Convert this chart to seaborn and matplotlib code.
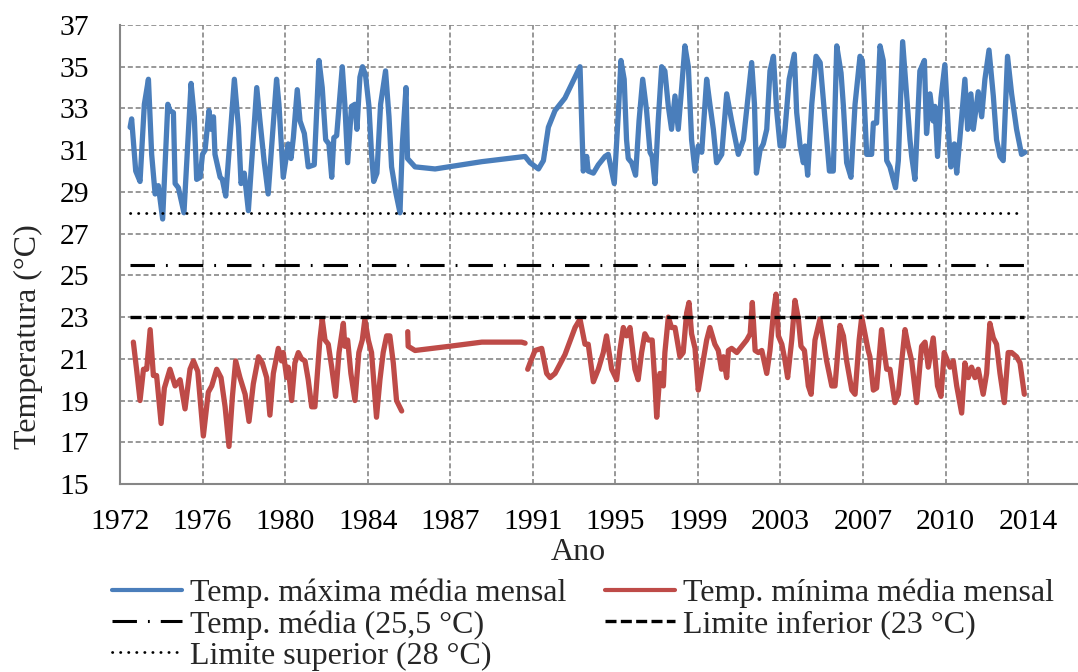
import pandas as pd
import matplotlib
matplotlib.use('Agg')
import matplotlib.pyplot as plt
from matplotlib.lines import Line2D
import seaborn as sns

# temp. maxima media mensal
anos_max = [
    1972.97, 1973.04, 1973.23, 1973.43, 1973.63, 1973.82, 1973.97, 1974.13, 1974.28, 1974.48,
    1974.72, 1974.82, 1974.98, 1975.06, 1975.21, 1975.47, 1975.80, 1975.95, 1976.06, 1976.22,
    1976.33, 1976.45, 1976.63, 1976.73, 1976.84, 1976.91, 1977.15, 1977.25, 1977.41, 1977.81,
    1978.00, 1978.12, 1978.27, 1978.46, 1978.85, 1979.00, 1979.20, 1979.38, 1979.77, 1979.88,
    1980.08, 1980.31, 1980.44, 1980.55, 1980.73, 1980.86, 1981.06, 1981.24, 1981.52, 1981.74,
    1981.89, 1982.05, 1982.20, 1982.33, 1982.43, 1982.56, 1982.82, 1982.94, 1983.07, 1983.25,
    1983.41, 1983.50, 1983.64, 1983.76, 1983.90, 1984.06, 1984.18, 1984.28, 1984.43, 1984.60,
    1984.83, 1984.99, 1985.11, 1985.30, 1985.50, 1985.61, 1985.78, 1985.85,
    1986.20, 1987.13, 1989.30, 1991.31, 1991.54, 1991.93, 1992.16, 1992.39, 1992.70, 1993.16,
    1993.86, 1994.01, 1994.17, 1994.24, 1994.48, 1994.71, 1995.02, 1995.17, 1995.33, 1995.45,
    1995.64, 1995.76, 1995.91, 1996.02, 1996.10, 1996.26, 1996.44, 1996.60, 1996.77, 1996.95,
    1997.11, 1997.21, 1997.34, 1997.49, 1997.65, 1997.80, 1997.96, 1998.11, 1998.27, 1998.42,
    1998.58, 1998.73, 1998.89, 1999.04, 1999.20, 1999.35, 1999.51, 1999.74, 1999.89, 2000.05,
    2000.20, 2000.44, 2000.67, 2000.90, 2001.21, 2001.45, 2001.83, 2001.96, 2002.05, 2002.22,
    2002.37, 2002.53, 2002.68, 2002.84, 2002.99, 2003.15, 2003.30, 2003.38, 2003.57, 2003.81,
    2003.92, 2004.08, 2004.23, 2004.31, 2004.43, 2004.62, 2004.82, 2005.01, 2005.24, 2005.44,
    2005.62, 2005.78, 2005.98, 2006.09, 2006.24, 2006.44, 2006.63, 2006.86, 2006.97, 2007.17,
    2007.40, 2007.48, 2007.63, 2007.79, 2007.94, 2008.10, 2008.25, 2008.51, 2008.64, 2008.84,
    2009.02, 2009.18, 2009.26, 2009.41, 2009.64, 2009.85, 2009.95, 2010.11, 2010.26, 2010.34,
    2010.46, 2010.62, 2010.80, 2010.96, 2011.08, 2011.24, 2011.35, 2011.50, 2011.73, 2011.86,
    2012.01, 2012.12, 2012.35, 2012.51, 2012.66, 2012.85, 2013.05, 2013.20, 2013.36, 2013.51,
    2013.71, 2013.90, 2014.13, 2014.36, 2014.52]
temp_max = [
    32.1, 32.5, 30.0, 29.5, 33.2, 34.4, 30.8, 28.9, 29.3, 27.7,
    33.2, 32.9, 32.8, 29.4, 29.2, 28.0, 34.2, 32.6, 29.6, 29.7,
    30.8, 31.0, 32.9, 32.0, 32.6, 30.8, 29.7, 29.6, 28.8, 34.4,
    32.1, 29.4, 29.9, 28.1, 34.0, 32.4, 30.4, 28.9, 34.4, 33.2,
    29.7, 31.3, 30.6, 31.6, 33.9, 32.4, 31.8, 30.2, 30.3, 35.3,
    34.0, 31.5, 31.3, 29.7, 31.6, 31.7, 35.0, 33.2, 30.4, 33.1,
    33.2, 32.0, 34.5, 35.0, 34.6, 33.1, 30.8, 29.5, 29.9, 33.2,
    34.8, 32.6, 30.2, 29.0, 28.0, 31.3, 34.0, 30.6,
    30.2, 30.1, 30.45, 30.7, 30.4, 30.1, 30.5, 32.1, 32.9, 33.5,
    35.0, 30.0, 30.7, 30.0, 29.9, 30.3, 30.7, 30.8, 30.0, 29.4,
    32.8, 35.3, 34.4, 31.5, 30.6, 30.4, 29.8, 32.4, 34.4, 32.9,
    30.9, 30.7, 29.4, 32.4, 35.0, 34.8, 33.1, 32.0, 33.6, 32.0,
    34.0, 36.0, 35.0, 31.5, 30.0, 31.2, 30.9, 34.4, 33.2, 32.0,
    30.4, 30.8, 33.7, 32.4, 30.8, 31.5, 35.2, 33.2, 29.9, 31.0,
    31.3, 32.0, 34.8, 35.5, 32.9, 31.2, 31.2, 32.0, 34.4, 35.6,
    32.8, 31.2, 30.4, 31.2, 29.8, 33.2, 35.5, 35.2, 32.4, 30.0,
    30.0, 36.0, 34.7, 33.1, 30.4, 29.7, 33.2, 35.5, 35.3, 30.8,
    30.8, 32.3, 32.3, 36.0, 35.3, 30.5, 30.2, 29.2, 30.5, 36.2,
    33.7, 31.5, 30.7, 29.6, 34.8, 35.3, 31.8, 33.7, 32.4, 33.1,
    30.7, 33.5, 35.1, 32.0, 30.2, 31.3, 29.9, 31.6, 34.4, 32.0,
    33.7, 32.0, 33.8, 32.6, 34.4, 35.8, 33.6, 31.5, 30.7, 30.5,
    35.5, 33.7, 32.0, 30.8, 30.9]

# temp. minima media mensal - a serie tem falhas, entao vai em 3 trechos
anos_min_1 = [
    1973.12, 1973.28, 1973.43, 1973.59, 1973.74, 1973.90, 1974.05, 1974.20, 1974.41, 1974.56,
    1974.82, 1975.06, 1975.29, 1975.52, 1975.75, 1975.91, 1976.11, 1976.37, 1976.60, 1976.76,
    1976.99, 1977.19, 1977.38, 1977.56, 1977.72, 1977.87, 1978.07, 1978.31, 1978.49, 1978.69,
    1978.93, 1979.11, 1979.31, 1979.46, 1979.62, 1979.85, 1980.00, 1980.08, 1980.24, 1980.31,
    1980.47, 1980.62, 1980.78, 1980.93, 1981.09, 1981.24, 1981.40, 1981.55, 1981.78, 1981.89,
    1982.02, 1982.17, 1982.33, 1982.51, 1982.67, 1982.87, 1982.94, 1983.07, 1983.22, 1983.41,
    1983.59, 1983.75, 1983.87, 1984.03, 1984.18, 1984.41, 1984.57, 1984.72, 1984.88, 1985.03,
    1985.19, 1985.34, 1985.58]
temp_min_1 = [
    21.8, 20.4, 19.0, 20.5, 20.5, 22.4, 20.2, 20.2, 17.9, 19.6,
    20.5, 19.7, 20.0, 18.6, 20.5, 20.9, 20.4, 17.3, 19.4, 19.7,
    20.5, 20.1, 18.7, 16.8, 19.2, 20.9, 20.1, 19.3, 18.0, 19.8,
    21.1, 20.8, 20.1, 18.3, 20.3, 21.5, 20.9, 21.3, 20.1, 20.6,
    19.0, 20.8, 21.3, 21.0, 20.9, 20.0, 18.7, 18.7, 21.9, 22.9,
    21.9, 21.7, 20.6, 19.2, 21.3, 22.7, 21.6, 21.9, 20.3, 19.0,
    21.3, 21.9, 22.9, 21.9, 21.3, 18.2, 20.0, 21.3, 22.1, 22.1,
    20.8, 19.0, 18.5]

anos_min_2 = [1985.86, 1985.88, 1986.20, 1987.79, 1989.30, 1991.15, 1991.31]
temp_min_2 = [22.3, 21.6, 21.4, 21.6, 21.8, 21.8, 21.75]

anos_min_3 = [
    1991.43, 1991.54, 1991.77, 1992.08, 1992.31, 1992.47, 1992.70, 1993.16, 1993.63, 1993.86,
    1994.09, 1994.24, 1994.48, 1994.71, 1994.94, 1995.09, 1995.33, 1995.56, 1995.71, 1995.87,
    1996.02, 1996.18, 1996.41, 1996.56, 1996.72, 1996.87, 1997.03, 1997.21, 1997.34, 1997.42,
    1997.57, 1997.73, 1997.80, 1997.96, 1998.11, 1998.27, 1998.50, 1998.65, 1998.81, 1998.92,
    1999.04, 1999.20, 1999.35, 1999.51, 1999.74, 1999.89, 2000.12, 2000.28, 2000.43, 2000.52,
    2000.67, 2000.75, 2000.90, 2001.14, 2001.37, 2001.60, 2001.76, 2001.86, 2001.99, 2002.14,
    2002.30, 2002.53, 2002.68, 2002.84, 2002.96, 2003.07, 2003.23, 2003.38, 2003.50, 2003.69,
    2003.84, 2004.00, 2004.12, 2004.28, 2004.46, 2004.59, 2004.77, 2005.00, 2005.16, 2005.31,
    2005.55, 2005.70, 2005.93, 2006.09, 2006.24, 2006.48, 2006.63, 2006.82, 2006.94, 2007.24,
    2007.32, 2007.48, 2007.63, 2007.86, 2007.99, 2008.10, 2008.25, 2008.48, 2008.64, 2008.95,
    2009.10, 2009.26, 2009.49, 2009.72, 2009.88, 2010.03, 2010.26, 2010.46, 2010.62, 2010.77,
    2010.93, 2011.04, 2011.19, 2011.35, 2011.58, 2011.73, 2011.89, 2012.04, 2012.20, 2012.35,
    2012.58, 2012.74, 2012.89, 2013.05, 2013.20, 2013.36, 2013.56, 2013.74, 2013.90, 2014.13,
    2014.29, 2014.49]
temp_min_3 = [
    20.5, 20.8, 21.4, 21.5, 20.3, 20.1, 20.3, 21.2, 22.5, 22.9,
    21.7, 21.7, 19.9, 20.5, 21.3, 22.1, 20.5, 20.0, 21.4, 22.5,
    22.1, 22.5, 20.5, 20.0, 21.3, 22.2, 21.9, 21.9, 19.8, 18.2,
    20.3, 19.7, 21.3, 23.0, 22.5, 22.5, 21.1, 21.3, 23.2, 23.7,
    22.2, 21.5, 19.5, 20.5, 21.9, 22.5, 21.7, 21.4, 20.5, 21.1,
    20.1, 21.4, 21.5, 21.3, 21.6, 21.9, 22.2, 23.7, 21.4, 21.3,
    21.4, 20.3, 21.4, 23.2, 24.1, 22.1, 21.7, 20.9, 20.1, 21.9,
    23.8, 22.9, 21.6, 21.4, 19.7, 19.3, 21.9, 22.9, 21.9, 20.9,
    19.7, 19.7, 22.6, 22.1, 20.9, 19.5, 19.3, 21.9, 23.0, 21.4,
    21.1, 19.5, 19.6, 22.4, 21.3, 20.5, 20.5, 18.9, 19.3, 22.4,
    21.6, 20.9, 18.9, 21.6, 21.8, 20.6, 22.0, 19.7, 19.2, 21.3,
    20.9, 20.6, 20.9, 19.7, 18.4, 20.8, 20.1, 20.6, 20.1, 20.5,
    19.3, 20.3, 22.7, 22.0, 21.7, 20.3, 18.9, 21.3, 21.3, 21.1,
    20.8, 19.3]

temp_media = 25.5
limite_inferior = 23
limite_superior = 28

# eixo de datas do Excel: unidade principal de 1400 dias
x_inicio = 1972.5
x_passo = 1400 / 365.25
x_rotulos = ['1972', '1976', '1980', '1984', '1987', '1991',
             '1995', '1999', '2003', '2007', '2010', '2014']
y_ticks = list(range(15, 38, 2))

df_max = pd.DataFrame({'ano': anos_max, 'temp': temp_max})
df_min = pd.concat([
    pd.DataFrame({'ano': anos_min_1, 'temp': temp_min_1, 'trecho': 1}),
    pd.DataFrame({'ano': anos_min_2, 'temp': temp_min_2, 'trecho': 2}),
    pd.DataFrame({'ano': anos_min_3, 'temp': temp_min_3, 'trecho': 3}),
])

azul = '#4a7ebb'
vermelho = '#be4b48'
cinza = '#868686'

sns.set_style('white')
plt.rcParams['font.family'] = ['Liberation Serif', 'DejaVu Serif']
fs_ticks = 21.3
fs = 23

fig = plt.figure(figsize=(10.78, 6.72), dpi=100)
ax = fig.add_axes([120 / 1078, 188 / 672, 958 / 1078, 459 / 672])

sns.lineplot(data=df_max, x='ano', y='temp', color=azul, lw=3.8, estimator=None,
             sort=False, legend=False, ax=ax, solid_capstyle='round', solid_joinstyle='round')
sns.lineplot(data=df_min, x='ano', y='temp', units='trecho', color=vermelho, lw=3.8,
             estimator=None, sort=False, legend=False, ax=ax,
             solid_capstyle='round', solid_joinstyle='round')

# linhas de referencia, no mesmo periodo dos dados
x_ref = [df_max['ano'].min(), df_max['ano'].max() - 0.05]
ls_sup = (0, (0.1, 2.8))
ls_media = (0, (8, 3.6, 0.6, 3.6))
ls_inf = (0, (3.3, 1.3))
ax.plot(x_ref, [limite_superior] * 2, color='black', lw=2, linestyle=ls_sup, dash_capstyle='round')
ax.plot(x_ref, [temp_media] * 2, color='black', lw=2.2, linestyle=ls_media)
ax.plot(x_ref, [limite_inferior] * 2, color='black', lw=2.4, linestyle=ls_inf)

ticks_x = [x_inicio + k * x_passo for k in range(len(x_rotulos))]
ax.set_xticks(ticks_x)
ax.set_xticklabels(x_rotulos)
ax.set_xlim(x_inicio, x_inicio + x_passo * 958 / 82.55)
ax.set_yticks(y_ticks)
ax.set_ylim(15, 37)

ax.grid(True, color=cinza, linestyle=(0, (3, 1.7)), lw=1.2)
ax.set_axisbelow(True)
for s in ['top', 'right']:
    ax.spines[s].set_visible(False)
for s in ['left', 'bottom']:
    ax.spines[s].set_color(cinza)
    ax.spines[s].set_linewidth(1.5)
ax.tick_params(axis='both', direction='out', length=8, width=1.3, color=cinza,
               labelsize=fs_ticks, labelcolor='black')
ax.tick_params(axis='x', pad=10)
ax.tick_params(axis='y', pad=14)

ax.set_xlabel('Ano', fontsize=fs, va='center')
ax.xaxis.set_label_coords((578 - 120) / 958, (484 - 552) / 459)
ax.set_ylabel('Temperatura (°C)', fontsize=fs, va='center')
ax.yaxis.set_label_coords((28 - 120) / 958, (484 - 337) / 459)

handles = [
    Line2D([], [], color=azul, lw=3, solid_capstyle='round'),
    Line2D([], [], color='black', lw=2.2, linestyle=ls_media),
    Line2D([], [], color='black', lw=2, linestyle=ls_sup, dash_capstyle='round'),
    Line2D([], [], color=vermelho, lw=3, solid_capstyle='round'),
    Line2D([], [], color='black', lw=2.4, linestyle=ls_inf),
]
labels = ['Temp. máxima média mensal', 'Temp. média (25,5 °C)', 'Limite superior (28 °C)',
          'Temp. mínima média mensal', 'Limite inferior (23 °C)']
fig.legend(handles, labels, ncol=2, loc='upper left', bbox_to_anchor=(112 / 1078, 1 - 579 / 672),
           frameon=False, fontsize=fs, borderpad=0, borderaxespad=0, handlelength=2.2,
           handletextpad=0.25, columnspacing=1.2, labelspacing=0.05)

fig.savefig('out.png', dpi=100)
